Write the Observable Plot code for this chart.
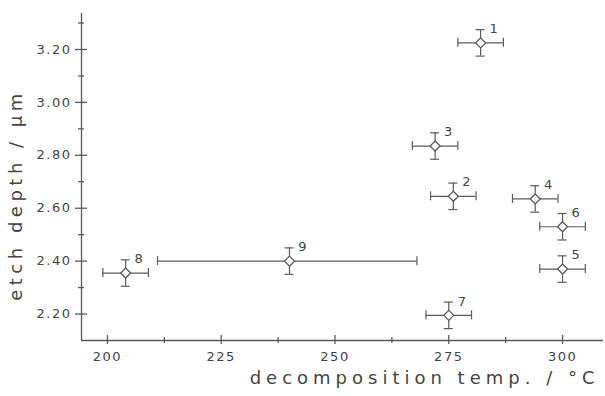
<!DOCTYPE html>
<html>
<head>
<meta charset="utf-8">
<script src="https://cdn.jsdelivr.net/npm/d3@7"></script>
<script src="https://cdn.jsdelivr.net/npm/@observablehq/plot@0.6"></script>
<style>
  html, body { margin: 0; padding: 0; background: #fff; }
  svg { display: block; }
  g[aria-label="y-axis tick label"] text, g[aria-label="x-axis tick label"] text { letter-spacing: 1.5px; }
</style>
</head>
<body>
<div id="chart"></div>
<script>
// sample number, decomposition temperature (°C), etch depth (µm)
const ids = ["1", "2", "3", "4", "5", "6", "7", "8", "9"];
const temp = [282, 276, 272, 294, 300, 300, 275, 204, 240];
const depth = [3.225, 2.645, 2.835, 2.635, 2.37, 2.53, 2.195, 2.355, 2.40];
const tempLow = [277, 271, 267, 289, 295, 295, 270, 199, 211];
const tempHigh = [287, 281, 277, 299, 305, 305, 280, 209, 268];
const depthErr = [0.05, 0.05, 0.05, 0.05, 0.05, 0.05, 0.05, 0.05, 0.05];

const xTicks = [200, 225, 250, 275, 300];
const xMinor = [212.5, 237.5, 262.5, 287.5];
const yTicks = [2.20, 2.40, 2.60, 2.80, 3.00, 3.20];
const yMinor = [2.30, 2.50, 2.70, 2.90, 3.10, 3.30];
const xDomain = [194.3, 309];
const yDomain = [2.10, 3.336];
const xLabel = "decomposition temp. / °C";
const yLabel = "etch depth / µm";

const data = ids.map((id, i) => ({
  id, x: temp[i], y: depth[i], xlo: tempLow[i], xhi: tempHigh[i],
  ylo: depth[i] - depthErr[i], yhi: depth[i] + depthErr[i]
}));

const ink = "#5a5a5a";
const x0 = xDomain[0], y0 = yDomain[0];

const chart = Plot.plot({
  width: 605,
  height: 396,
  marginLeft: 81,
  marginRight: 2,
  marginTop: 13,
  marginBottom: 56,
  style: { fontFamily: "DejaVu Sans", fontSize: "13px", color: "#444", background: "#fff" },
  x: { domain: xDomain },
  y: { domain: yDomain },
  marks: [
    // axis lines
    Plot.ruleX([x0], { y1: yDomain[0], y2: yDomain[1], stroke: ink, strokeWidth: 1.3 }),
    Plot.ruleY([y0], { x1: xDomain[0], x2: xDomain[1], stroke: ink, strokeWidth: 1.3 }),
    // y ticks (crossing)
    Plot.ruleY(yTicks, { x1: x0, x2: x0, insetLeft: -6, insetRight: -6, stroke: ink, strokeWidth: 1.3 }),
    Plot.ruleY(yMinor, { x1: x0, x2: x0, insetLeft: -3, insetRight: -3, stroke: ink, strokeWidth: 1.3 }),
    // x ticks
    Plot.ruleX(xTicks, { y1: y0, y2: y0, insetTop: -5, insetBottom: -4, stroke: ink, strokeWidth: 1.3 }),
    Plot.ruleX(xMinor, { y1: y0, y2: y0, insetTop: -3, insetBottom: -3, stroke: ink, strokeWidth: 1.3 }),
    Plot.axisX(xTicks, { tickSize: 0, tickPadding: 11, tickFormat: d3.format("d"), fill: "#444", fontSize: 13, label: null }),
    Plot.axisY(yTicks, { tickSize: 0, tickPadding: 10, tickFormat: d3.format(".2f"), fill: "#444", fontSize: 13, label: null }),
    // error bars
    Plot.ruleY(data, { y: "y", x1: "xlo", x2: "xhi", stroke: ink, strokeWidth: 1.2 }),
    Plot.ruleX(data, { x: "x", y1: "ylo", y2: "yhi", stroke: ink, strokeWidth: 1.2 }),
    Plot.ruleX(data, { x: "xlo", y1: "y", y2: "y", insetTop: -4.5, insetBottom: -4.5, stroke: ink, strokeWidth: 1.2 }),
    Plot.ruleX(data, { x: "xhi", y1: "y", y2: "y", insetTop: -4.5, insetBottom: -4.5, stroke: ink, strokeWidth: 1.2 }),
    Plot.ruleY(data, { y: "ylo", x1: "x", x2: "x", insetLeft: -4.5, insetRight: -4.5, stroke: ink, strokeWidth: 1.2 }),
    Plot.ruleY(data, { y: "yhi", x1: "x", x2: "x", insetLeft: -4.5, insetRight: -4.5, stroke: ink, strokeWidth: 1.2 }),
    // markers
    Plot.dot(data, { x: "x", y: "y", symbol: "diamond2", r: 4.5, fill: "#fff", stroke: ink, strokeWidth: 1.3 }),
    // point labels
    Plot.text(data, { x: "x", y: "y", text: "id", dx: 13, dy: -14, fill: "#444", fontSize: 13 }),
    // axis titles
    Plot.text([xLabel], { frameAnchor: "bottom-right", textAnchor: "end", dx: -4, dy: 43, fill: "#444", fontSize: 18 }),
    Plot.text([yLabel], { frameAnchor: "left", textAnchor: "middle", rotate: -90, dx: -65, dy: 18, fill: "#444", fontSize: 18 })
  ]
});
const textGroups = chart.querySelectorAll('g[aria-label="text"]');
if (textGroups[1]) textGroups[1].style.letterSpacing = "5px";
if (textGroups[2]) textGroups[2].style.letterSpacing = "4.5px";
document.getElementById("chart").appendChild(chart);
</script>
</body>
</html>
